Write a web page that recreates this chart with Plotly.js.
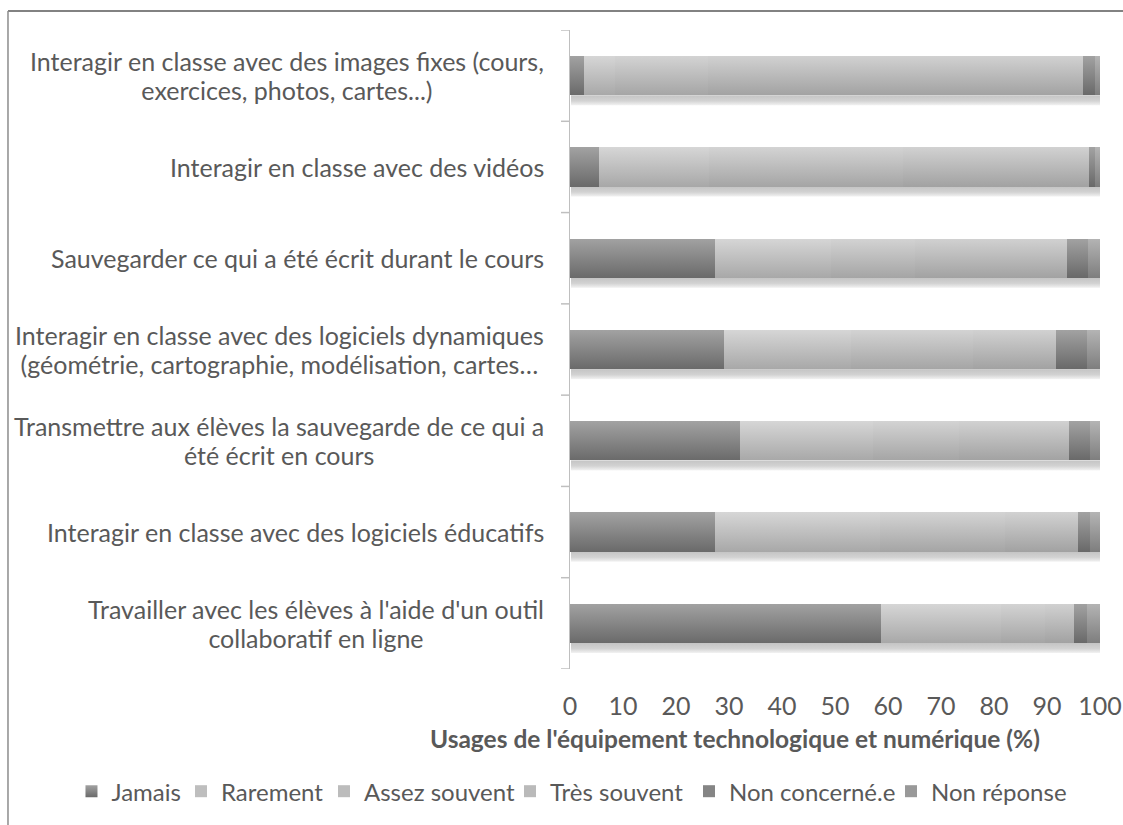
<!DOCTYPE html>
<html>
<head>
<meta charset="utf-8">
<script src="https://cdn.plot.ly/plotly-3.0.1.min.js"></script>
<style>
  html, body { margin: 0; padding: 0; background: #ffffff; }
  #chart { width: 1123px; height: 825px; }
</style>
</head>
<body>
<div id="chart"></div>
<script>
// Categories (bottom to top as drawn)
const categories = [
  "Travailler avec les élèves à l'aide d'un outil<br>collaboratif en ligne",
  "Interagir en classe avec des logiciels éducatifs",
  "Transmettre aux élèves la sauvegarde de ce qui a<br>été écrit en cours",
  "Interagir en classe avec des logiciels dynamiques<br>(géométrie, cartographie, modélisation, cartes…",
  "Sauvegarder ce qui a été écrit durant le cours",
  "Interagir en classe avec des vidéos",
  "Interagir en classe avec des images fixes (cours,<br>exercices, photos, cartes...)"
];

const seriesNames = ["Jamais", "Rarement", "Assez souvent", "Très souvent", "Non concerné.e", "Non réponse"];

// Values (%) in the same order as categories
const jamais       = [58.7, 27.4, 32.1, 29.1, 27.4, 5.4, 2.6];
const rarement     = [22.7, 31.0, 25.1, 24.0, 21.8, 20.9, 5.8];
const assezSouvent = [8.3, 23.7, 16.2, 23.0, 15.9, 36.6, 17.7];
const tresSouvent  = [5.3, 13.8, 20.8, 15.6, 28.7, 35.0, 70.7];
const nonConcerne  = [2.6, 2.2, 3.9, 5.9, 3.9, 1.2, 2.3];
const nonReponse   = [2.4, 2.0, 1.9, 2.4, 2.3, 0.9, 0.9];

const xTicks = [0, 10, 20, 30, 40, 50, 60, 70, 80, 90, 100];
const xTitle = "Usages de l'équipement technologique et numérique (%)";

const seriesValues = [jamais, rarement, assezSouvent, tresSouvent, nonConcerne, nonReponse];
const baseColors = ["#878787", "#bebebe", "#bcbcbc", "#bababa", "#858585", "#999999"];
const gradStops = [
  ["#a2a2a2", "#6a6a6a"],
  ["#d6d6d6", "#a8a8a8"],
  ["#d3d3d3", "#a5a5a5"],
  ["#d1d1d1", "#a2a2a2"],
  ["#a2a2a2", "#696969"],
  ["#b4b4b4", "#7e7e7e"]
];

// one legend box per series (left edges, paper units of the x domain)
const legendX = [-0.9406, -0.7340, -0.4642, -0.1132, 0.2245, 0.6057];
const legendIds = ["legend", "legend2", "legend3", "legend4", "legend5", "legend6"];

const catIdx = categories.map((c, i) => i);

const traces = seriesNames.map((name, k) => ({
  type: "bar",
  orientation: "h",
  name: name,
  y: catIdx,
  x: seriesValues[k],
  legend: legendIds[k],
  marker: { color: baseColors[k], line: { width: 0 } },
  hoverinfo: "x+name"
}));

const FONT = "Lato, 'Open Sans', sans-serif";
const labelFont = { family: FONT, size: 25, color: "#595959" };
const legendFont = { family: FONT, size: 24, color: "#595959" };

const annotations = categories.map((c, i) => ({
  xref: "paper", yref: "y",
  x: -0.045, y: i,
  xanchor: "right", yanchor: "middle",
  align: "center",
  text: c,
  showarrow: false,
  font: labelFont
}));
annotations.push({
  xref: "paper", yref: "paper",
  x: 0.311, y: -0.109,
  xanchor: "center", yanchor: "middle",
  text: "<b>" + xTitle + "</b>",
  showarrow: false,
  font: { family: FONT, size: 24.5, color: "#595959" }
});

const layout = {
  width: 1123, height: 825,
  margin: { l: 570, r: 23, t: 30, b: 155 },
  paper_bgcolor: "#ffffff",
  plot_bgcolor: "#ffffff",
  barmode: "stack",
  bargap: 0.57,
  showlegend: true,
  xaxis: {
    range: [0, 100],
    tickvals: xTicks,
    ticktext: xTicks.map(String),
    showgrid: false,
    zeroline: false,
    showline: false,
    ticks: "",
    ticklabelstandoff: 20,
    tickfont: labelFont,
    automargin: false,
    fixedrange: true
  },
  yaxis: {
    range: [-0.5, categories.length - 0.5],
    tickvals: catIdx,
    showticklabels: false,
    showgrid: false,
    zeroline: false,
    showline: true,
    linecolor: "#bfbfbf",
    linewidth: 1.5,
    fixedrange: true
  },
  annotations: annotations,
  shapes: [
    ...Array.from({ length: categories.length + 1 }, (_, j) => ({
      type: "line", xref: "paper", yref: "y",
      x0: -0.017, x1: 0, y0: j - 0.5, y1: j - 0.5,
      line: { color: "#bfbfbf", width: 1.5 }
    })),
    { type: "line", xref: "paper", yref: "paper", x0: -1.0604, x1: 1.05, y0: 1.0297, y1: 1.0297, line: { color: "#595959", width: 1.5 } },
    { type: "line", xref: "paper", yref: "paper", x0: -1.0604, x1: -1.0604, y0: 1.0297, y1: -0.26, line: { color: "#8c8c8c", width: 1.5 } }
  ]
};

legendIds.forEach((id, k) => {
  layout[id] = {
    orientation: "h",
    x: legendX[k], xanchor: "left",
    y: -0.19, yanchor: "middle",
    font: legendFont,
    itemwidth: 30,
    bgcolor: "rgba(0,0,0,0)"
  };
});

const NS = "http://www.w3.org/2000/svg";
function ensureDefs(gd) {
  if (document.getElementById("myGradDefs")) return;
  const svg = gd.querySelector("svg.main-svg");
  const defs = document.createElementNS(NS, "defs");
  defs.setAttribute("id", "myGradDefs");
  svg.insertBefore(defs, svg.firstChild);
  gradStops.forEach((st, k) => {
    const g = document.createElementNS(NS, "linearGradient");
    g.setAttribute("id", "grad" + k);
    g.setAttribute("x1", "0"); g.setAttribute("y1", "0");
    g.setAttribute("x2", "0"); g.setAttribute("y2", "1");
    [[0, st[0]], [1, st[1]]].forEach(([o, c]) => {
      const s = document.createElementNS(NS, "stop");
      s.setAttribute("offset", String(o));
      s.setAttribute("stop-color", c);
      g.appendChild(s);
    });
    defs.appendChild(g);
  });
  const sg = document.createElementNS(NS, "linearGradient");
  sg.setAttribute("id", "shadowGrad");
  sg.setAttribute("x1", "0"); sg.setAttribute("y1", "0");
  sg.setAttribute("x2", "0"); sg.setAttribute("y2", "1");
  [[0, "#c4c4c4"], [0.55, "#d2d2d2"], [1, "#f2f2f2"]].forEach(([o, c]) => {
    const s = document.createElementNS(NS, "stop");
    s.setAttribute("offset", String(o));
    s.setAttribute("stop-color", c);
    sg.appendChild(s);
  });
  defs.appendChild(sg);
}

function styleBars(gd) {
  try {
    ensureDefs(gd);
    gd.querySelectorAll("g.barlayer g.trace").forEach((tg, k) => {
      tg.querySelectorAll("path").forEach(p => {
        if (p.getAttribute("data-styled")) return;
        p.setAttribute("data-styled", "1");
        p.setAttribute("fill", "url(#grad" + k + ")");
        p.style.setProperty("fill", "url(#grad" + k + ")", "important");
      });
    });
    const barlayer = gd.querySelector("g.barlayer");
    if (barlayer && !document.getElementById("myShadows")) {
      const boxes = {};
      barlayer.querySelectorAll("path").forEach(p => {
        const b = p.getBBox();
        if (b.width <= 0) return;
        const key = Math.round(b.y);
        if (!boxes[key]) boxes[key] = { x0: b.x, x1: b.x + b.width, y: b.y, h: b.height };
        boxes[key].x0 = Math.min(boxes[key].x0, b.x);
        boxes[key].x1 = Math.max(boxes[key].x1, b.x + b.width);
      });
      const g = document.createElementNS(NS, "g");
      g.setAttribute("id", "myShadows");
      Object.values(boxes).forEach(bx => {
        const r = document.createElementNS(NS, "rect");
        r.setAttribute("x", bx.x0 + 1);
        r.setAttribute("y", bx.y + bx.h);
        r.setAttribute("width", bx.x1 - bx.x0 - 1);
        r.setAttribute("height", 10);
        r.setAttribute("fill", "url(#shadowGrad)");
        g.appendChild(r);
      });
      barlayer.insertBefore(g, barlayer.firstChild);
    }
    gd.querySelectorAll(".infolayer .legend .traces").forEach((lt) => {
      const txt = lt.querySelector("text.legendtext");
      const k = txt ? seriesNames.indexOf(txt.textContent) : -1;
      if (k >= 0) {
        lt.querySelectorAll(".legendpoints path").forEach(p => {
          p.style.setProperty("fill", "url(#grad" + k + ")", "important");
        });
      }
    });
    // tighter line spacing for two-line category labels
    gd.querySelectorAll("text.annotation-text").forEach(t => {
      if (t.getAttribute("data-lh")) return;
      const lines = t.querySelectorAll("tspan.line");
      if (lines.length > 1) {
        t.setAttribute("data-lh", "1");
        lines.forEach((ln, i) => { if (i > 0) ln.setAttribute("dy", "1.16em"); });
        const shift = (1.3 - 1.16) * 25 * (lines.length - 1) / 2;
        const prev = t.getAttribute("transform") || "";
        t.setAttribute("transform", prev + " translate(0," + shift.toFixed(2) + ")");
      }
    });
  } catch (e) { console.error(e); }
}

const gdEl = document.getElementById("chart");
Plotly.newPlot(gdEl, traces, layout, { displayModeBar: false, staticPlot: true }).then(styleBars);
setTimeout(() => styleBars(gdEl), 50);
</script>
</body>
</html>
